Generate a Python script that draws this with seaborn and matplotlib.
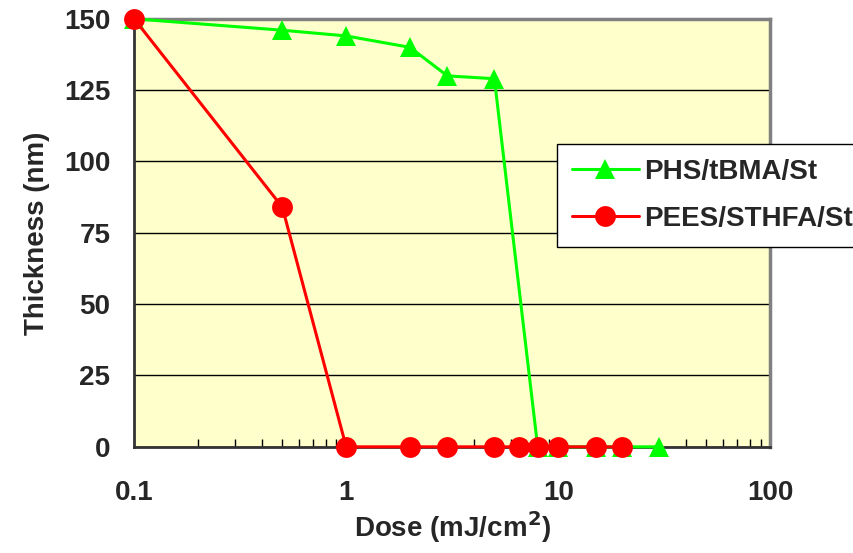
import numpy as np
import pandas as pd
import seaborn as sns
import matplotlib.pyplot as plt
from matplotlib.ticker import LogLocator, NullFormatter

# PHS/tBMA/St
dose_phs = [0.1, 0.5, 1, 2, 3, 5, 8, 10, 15, 20, 30]
thick_phs = [150, 146, 144, 140, 130, 129, 0, 0, 0, 0, 0]

# PEES/STHFA/St
dose_pees = [0.1, 0.5, 1, 2, 3, 5, 6.5, 8, 10, 15, 20]
thick_pees = [150, 84, 0, 0, 0, 0, 0, 0, 0, 0, 0]

labels = ['PHS/tBMA/St', 'PEES/STHFA/St']
colors = ['#00FF00', '#FF0000']
y_ticks = [0, 25, 50, 75, 100, 125, 150]
x_ticks = [0.1, 1, 10, 100]
x_ticklabels = ['0.1', '1', '10', '100']

df = pd.concat([
    pd.DataFrame({'dose': dose_phs, 'thickness': thick_phs, 'sample': labels[0]}),
    pd.DataFrame({'dose': dose_pees, 'thickness': thick_pees, 'sample': labels[1]}),
])

sns.set_style('white')
plt.rcParams['font.family'] = ['Liberation Sans', 'DejaVu Sans']
plt.rcParams['font.weight'] = 'bold'
fs = 20

fig = plt.figure(figsize=(8.54, 5.53), dpi=100)
ax = fig.add_axes([0.157, 0.192, 0.745, 0.774])
ax.set_facecolor('#FFFFCC')

sns.lineplot(data=df, x='dose', y='thickness', hue='sample', style='sample',
             palette=dict(zip(labels, colors)),
             markers={labels[0]: '^', labels[1]: 'o'}, dashes=False,
             markersize=15, markeredgewidth=0, linewidth=2.2,
             ax=ax, legend=False, zorder=3, clip_on=False)

ax.set_xscale('log')
ax.set_xlim(0.1, 100)
ax.set_ylim(0, 150)

ax.set_yticks(y_ticks)
ax.set_xticks(x_ticks)
ax.set_xticklabels(x_ticklabels)
ax.xaxis.set_minor_locator(LogLocator(base=10, subs=np.arange(2, 10)))
ax.xaxis.set_minor_formatter(NullFormatter())
ax.yaxis.grid(True, color='black', linewidth=1)
ax.set_axisbelow(True)

ax.tick_params(axis='both', which='major', direction='in', length=6, width=1,
               labelsize=fs, color='black')
ax.tick_params(axis='x', which='minor', direction='in', length=6, width=1,
               color='black', bottom=True)
ax.tick_params(axis='x', which='major', pad=24)
ax.tick_params(axis='y', which='major', pad=17)
for t in ax.get_xticklabels() + ax.get_yticklabels():
    t.set_fontweight('bold')

for side in ['left', 'bottom']:
    ax.spines[side].set_color('#333333')
    ax.spines[side].set_linewidth(2)
for side in ['top', 'right']:
    ax.spines[side].set_color('#808080')
    ax.spines[side].set_linewidth(2.5)

ax.set_xlabel('Dose (mJ/cm$^\\mathbf{2}$)', fontsize=fs, fontweight='bold', labelpad=2)
ax.set_ylabel('Thickness (nm)', fontsize=fs, fontweight='bold', labelpad=10)

handles = [plt.Line2D([], [], color=colors[0], marker='^', markersize=15,
                      markeredgewidth=0, linewidth=2.2),
           plt.Line2D([], [], color=colors[1], marker='o', markersize=15,
                      markeredgewidth=0, linewidth=2.2)]
leg = fig.legend(handles, labels, loc='upper left', bbox_to_anchor=(0.652, 0.74),
                 prop={'weight': 'bold', 'size': fs}, frameon=True,
                 fancybox=False, edgecolor='black', framealpha=1,
                 handlelength=2.4, borderpad=0.55, labelspacing=0.75,
                 handletextpad=0.2, borderaxespad=0)
leg.get_frame().set_linewidth(1)

fig.savefig('out.png', dpi=100)
